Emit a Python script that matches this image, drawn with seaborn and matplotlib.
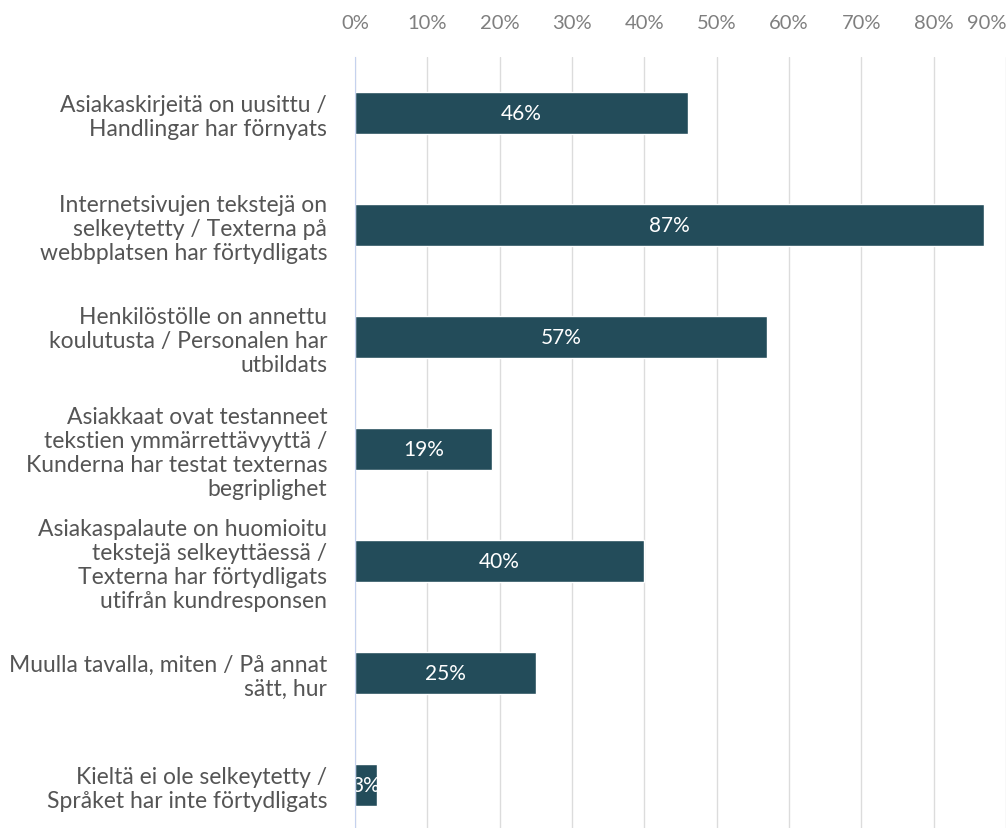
import pandas as pd
import matplotlib
matplotlib.use("Agg")
import matplotlib.pyplot as plt
import seaborn as sns
from matplotlib.ticker import PercentFormatter

# chart data
categories = [
    "Asiakaskirjeitä on uusittu /\nHandlingar har förnyats",
    "Internetsivujen tekstejä on\nselkeytetty / Texterna på\nwebbplatsen har förtydligats",
    "Henkilöstölle on annettu\nkoulutusta / Personalen har\nutbildats",
    "Asiakkaat ovat testanneet\ntekstien ymmärrettävyyttä /\nKunderna har testat texternas\nbegriplighet",
    "Asiakaspalaute on huomioitu\ntekstejä selkeyttäessä /\nTexterna har förtydligats\nutifrån kundresponsen",
    "Muulla tavalla, miten / På annat\nsätt, hur",
    "Kieltä ei ole selkeytetty /\nSpråket har inte förtydligats",
]
shares = [0.46, 0.87, 0.57, 0.19, 0.40, 0.25, 0.03]
ticks = [0, 0.1, 0.2, 0.3, 0.4, 0.5, 0.6, 0.7, 0.8, 0.9]

df = pd.DataFrame({"category": categories, "share": shares})

sns.set_style("white")
plt.rcParams['font.family'] = ['Lato', 'DejaVu Sans']

fig = plt.figure(figsize=(10.08, 8.29), dpi=100)
ax = fig.add_axes([355 / 1008, -13 / 829, 651 / 1008, 784 / 829])

bar_color = "#234C5A"
sns.barplot(data=df, x="share", y="category", color=bar_color, width=0.37,
            orient="h", ax=ax, saturation=1, zorder=3)

# value labels inside bars
for i, v in enumerate(shares):
    ax.text(v / 2, i, f"{round(v * 100)}%", ha="center", va="center",
            color="white", fontsize=15, zorder=4, clip_on=True)

ax.set_xlim(0, 0.9)
ax.set_ylim(len(categories) - 0.5, -0.5)
ax.set_xticks(ticks)
ax.xaxis.set_major_formatter(PercentFormatter(1.0, decimals=0))
ax.xaxis.tick_top()
ax.tick_params(axis="x", length=0, pad=19, labelsize=14.5, labelcolor="#7f7f7f")
ax.tick_params(axis="y", length=0, pad=20, labelsize=16.5, labelcolor="#555555")
for lbl in ax.get_yticklabels():
    lbl.set_horizontalalignment("right")
    lbl.set_multialignment("right")
    lbl.set_linespacing(1.17)
# last tick label sits at the edge, push it inward
ax.get_xticklabels()[-1].set_horizontalalignment("right")

ax.grid(axis="x", color="#dcdcdc", linewidth=1, zorder=0)
ax.set_xlabel("")
ax.set_ylabel("")
for s in ["top", "right", "bottom"]:
    ax.spines[s].set_visible(False)
ax.spines["left"].set_color("#c5d2ee")
ax.spines["left"].set_zorder(5)

plt.savefig("out.png", dpi=100)
